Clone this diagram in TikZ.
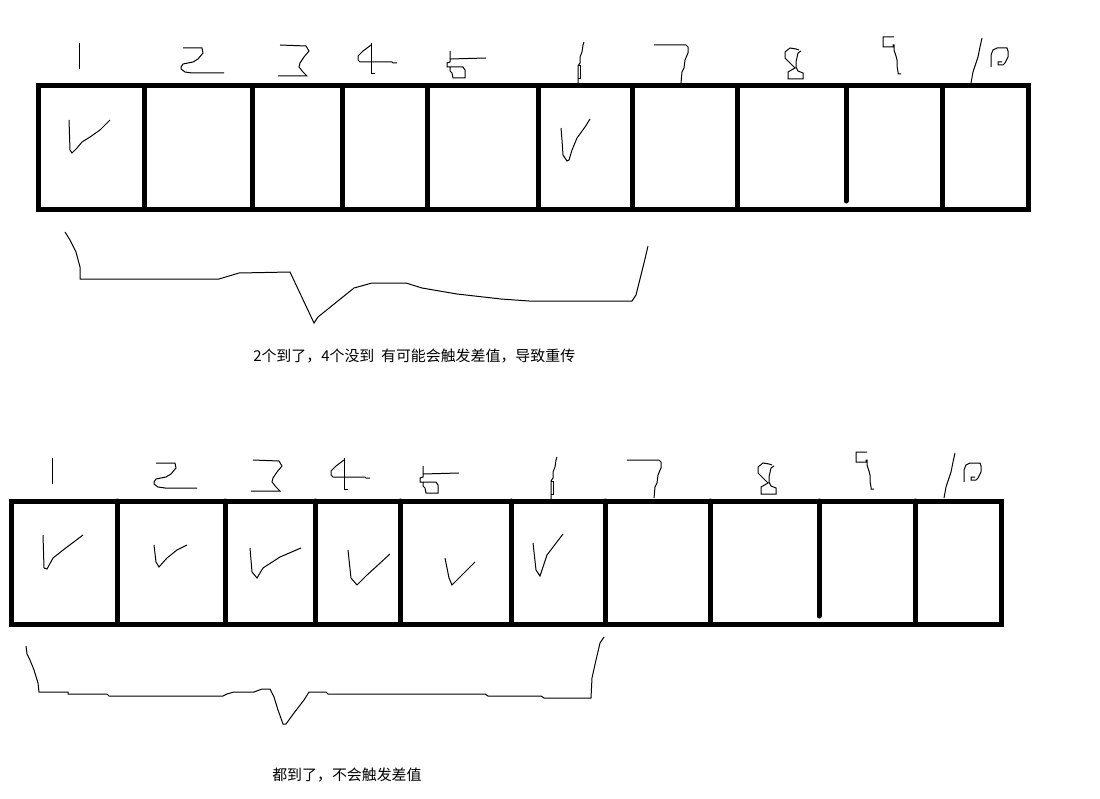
\documentclass[tikz,border=0pt]{standalone}
\usepackage{fontspec}
\newfontfamily\cjk{Noto Sans CJK SC}
\tikzset{
  frame/.style={line width=3.75pt, line join=miter},
  divider/.style={line width=3.75pt, line cap=round},
  pen/.style={line width=0.75pt, line join=miter},
  note/.style={font=\cjk\fontsize{11.2pt}{13pt}\selectfont, anchor=west, inner sep=0pt}
}
\newcommand\rowstrokes{%
  % frame and dividers
  \draw[frame] (38,86) rectangle (1028,209);
  \foreach \x in {144,252,342,427,538,632,737,942} \draw[divider] (\x,86) -- (\x,209);
  \draw[divider] (846,86) -- (846,201);
  % hand-drawn numbers
  \draw[pen] (79,43) -- (79,69);
  \draw[pen] (183,48) -- (202,48) -- (203,53) -- (198,59) -- (193,62) -- (183,64) -- (181,67) -- (181,69) -- (185,72) -- (192,73) -- (224,73);
  \draw[pen] (280,45) -- (306,46) -- (309,51) -- (304,57) -- (300,63) -- (299,67) -- (303,72) -- (307,76) -- (278,76);
  \draw[pen] (371,43) -- (371,74) -- (375,74);
  \draw[pen] (371,45) -- (363,51) -- (358,56) -- (358,60) -- (360,62) -- (392,62) -- (393,63) -- (397,63);
  \draw[pen] (450,59) -- (486,58);
  \draw[pen] (450,51) -- (450,62) -- (447,63) -- (447,67) -- (463,67) -- (465,70) -- (465,78) -- (453,78) -- (452,73) -- (450,71) -- (450,67);
  \draw[pen] (578,84) -- (578,66) -- (580,63) -- (580,57) -- (582,52) -- (583,45) -- (584,42);
  \draw[pen] (578,66) -- (580,66) -- (580,79) -- (578,79);
  \draw[pen] (654,45) -- (686,45) -- (688,47) -- (688,53) -- (685,60) -- (684,68) -- (682,72) -- (681,83);
  \draw[pen] (799,50) -- (796,49) -- (790,48) -- (785,52) -- (785,58) -- (790,63) -- (795,68) -- (788,72) -- (788,79) -- (803,79) -- (803,73) -- (798,71) -- (796,67) -- (796,62) -- (798,53) -- (801,51);
  \draw[pen] (894,37) -- (883,37) -- (883,47) -- (893,47) -- (893,45) -- (894,45) -- (894,50) -- (896,56) -- (897,60) -- (897,66) -- (898,72) -- (898,74) -- (901,74);
  \draw[pen] (971,83) -- (973,72) -- (976,63) -- (978,57) -- (980,47) -- (982,38);
  \draw[pen] (991,67) -- (991,55) -- (993,50) -- (997,48) -- (1007,48) -- (1008,51) -- (1008,57) -- (1005,63) -- (1003,65) -- (998,65) -- (998,62) -- (1002,62);
}
\begin{document}
\begin{tikzpicture}[x=0.75pt,y=-0.75pt]
\useasboundingbox (0,0) rectangle (1100,799);
\fill[white] (0,0) rectangle (1100,799);
% top row
\begin{scope}
  \rowstrokes
\end{scope}
% top ticks
\draw[pen] (69,120) -- (70,150) -- (72,153) -- (75,150) -- (77,148) -- (82,142) -- (90,137) -- (100,130) -- (105,125) -- (110,120);
\draw[pen] (561,128) -- (562,140) -- (563,155) -- (567,161) -- (569,160) -- (572,150) -- (577,138) -- (585,127) -- (590,119);
% top brace
\draw[pen] (65,232) -- (70,240) -- (76,252) -- (80,267) -- (80,279) -- (219,279) -- (239,273) -- (290,272) -- (314,323) -- (318,317) -- (354,288) -- (372,283) -- (406,283) -- (422,288) -- (457,294) -- (501,299) -- (529,301) -- (632,301) -- (636,295) -- (644,263) -- (648,246);
\node[note] (t1) at (253,356) {2个到了，4个没到\ \ 有可能会触发差值，导致重传};
% bottom row
\begin{scope}[shift={(-27,415)}]
  \rowstrokes
\end{scope}
% bottom ticks
\draw[pen] (43,535) -- (44,568) -- (47,569) -- (53,558) -- (67,547) -- (83,535);
\draw[pen] (154,545) -- (156,562) -- (159,567) -- (167,558) -- (177,550) -- (187,545);
\draw[pen] (250,548) -- (252,572) -- (257,578) -- (263,568) -- (280,557) -- (301,548);
\draw[pen] (348,550) -- (351,578) -- (357,585) -- (367,575) -- (378,565) -- (390,554);
\draw[pen] (445,558) -- (449,578) -- (452,585) -- (460,577) -- (475,562);
\draw[pen] (533,543) -- (536,570) -- (540,576) -- (547,555) -- (563,534);
% bottom brace
\draw[pen] (26,646) -- (27,654) -- (30,660) -- (34,670) -- (38,683) -- (39,692) -- (68,692) -- (68,694) -- (107,694) -- (109,696) -- (223,696) -- (227,694) -- (234,692) -- (254,692) -- (262,689) -- (270,689) -- (274,697) -- (278,710) -- (283,724) -- (286,724) -- (294,713) -- (304,700) -- (309,692) -- (326,692) -- (328,694) -- (485,694) -- (488,696) -- (541,696) -- (544,698) -- (591,698) -- (592,678) -- (596,660) -- (600,643) -- (604,637);
\node[note] (t2) at (272,775) {都到了，不会触发差值};
\end{tikzpicture}
\end{document}
